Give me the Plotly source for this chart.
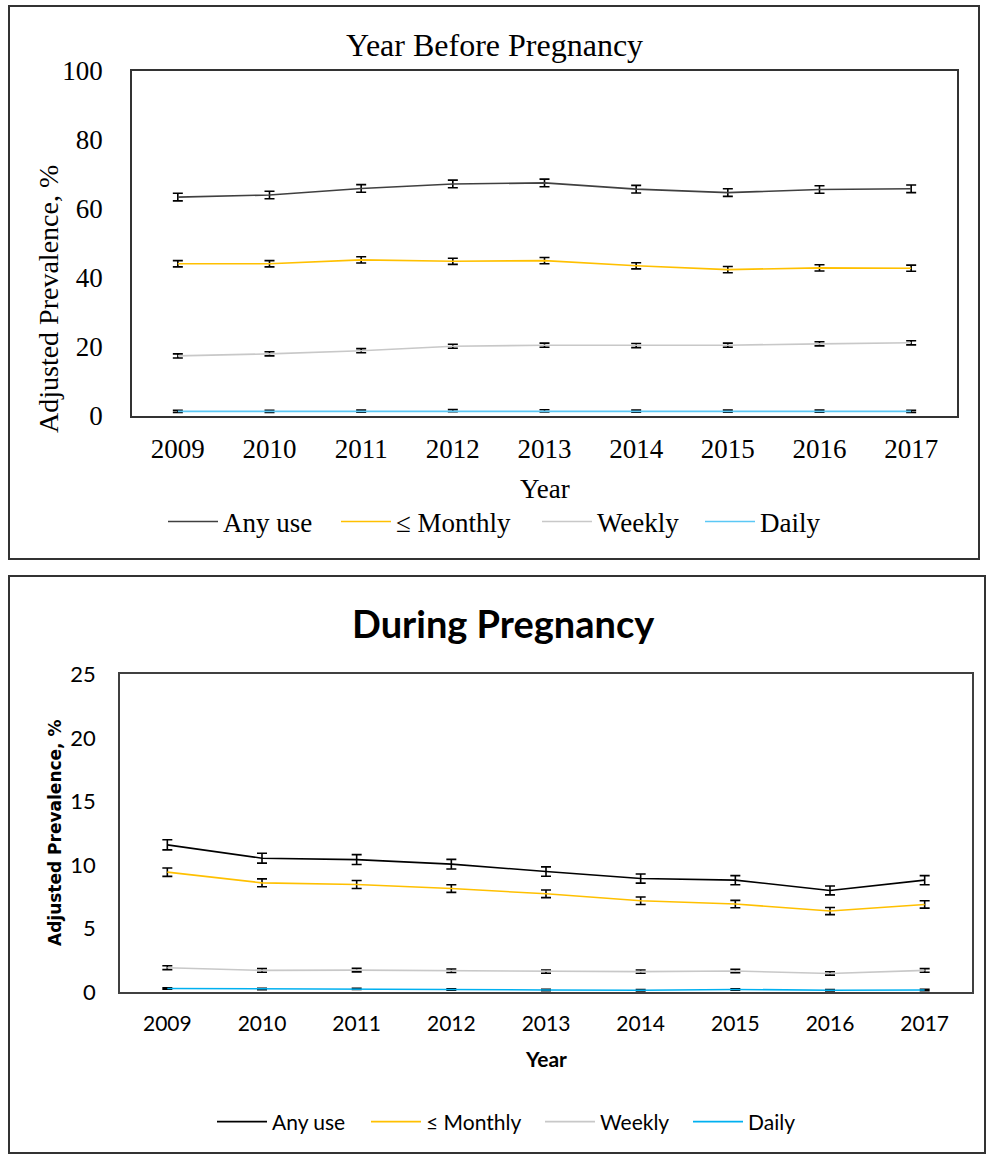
import plotly.graph_objects as go

W, H = 987, 1155

years = [2009, 2010, 2011, 2012, 2013, 2014, 2015, 2016, 2017]
series_names = ["Any use", "≤ Monthly", "Weekly", "Daily"]

# Year before pregnancy (adjusted prevalence, %)
before_any = [63.4, 64.0, 65.9, 67.2, 67.5, 65.7, 64.7, 65.6, 65.8]
before_monthly = [44.1, 44.1, 45.2, 44.8, 45.0, 43.5, 42.4, 42.9, 42.8]
before_weekly = [17.4, 18.0, 18.9, 20.2, 20.5, 20.4, 20.5, 20.9, 21.2]
before_daily = [1.35, 1.35, 1.4, 1.55, 1.5, 1.4, 1.4, 1.4, 1.35]
before_any_err = [1.1, 1.1, 1.1, 1.1, 1.1, 1.1, 1.1, 1.1, 1.1]
before_monthly_err = [0.9, 0.9, 0.9, 0.9, 0.9, 0.9, 0.9, 0.9, 0.9]
before_weekly_err = [0.6, 0.6, 0.6, 0.6, 0.6, 0.6, 0.6, 0.6, 0.6]
before_daily_err = [0.3, 0.3, 0.3, 0.3, 0.3, 0.3, 0.3, 0.3, 0.3]

# During pregnancy (adjusted prevalence, %)
during_any = [11.58, 10.53, 10.42, 10.06, 9.48, 8.93, 8.80, 7.99, 8.80]
during_monthly = [9.43, 8.59, 8.46, 8.14, 7.73, 7.18, 6.92, 6.37, 6.89]
during_weekly = [1.91, 1.70, 1.72, 1.67, 1.60, 1.60, 1.65, 1.46, 1.70]
during_daily = [0.28, 0.24, 0.25, 0.20, 0.16, 0.14, 0.20, 0.14, 0.16]
during_any_err = [0.40, 0.39, 0.39, 0.38, 0.37, 0.36, 0.36, 0.35, 0.36]
during_monthly_err = [0.33, 0.31, 0.31, 0.30, 0.30, 0.29, 0.29, 0.28, 0.29]
during_weekly_err = [0.15, 0.14, 0.14, 0.14, 0.13, 0.13, 0.13, 0.13, 0.14]
during_daily_err = [0.06, 0.05, 0.05, 0.05, 0.05, 0.05, 0.05, 0.05, 0.05]

top_colors = ["#404040", "#FFC000", "#C8C8C8", "#5BC8F5"]
bot_colors = ["#000000", "#FFC000", "#C8C8C8", "#00B0F0"]

SERIF = "Liberation Serif, Times New Roman, serif"
SANS = "Lato, Calibri, sans-serif"


def px(x):
    return x / W


def py(y):
    return 1 - y / H


fig = go.Figure()

top_vals = [before_any, before_monthly, before_weekly, before_daily]
top_errs = [before_any_err, before_monthly_err, before_weekly_err, before_daily_err]
bot_vals = [during_any, during_monthly, during_weekly, during_daily]
bot_errs = [during_any_err, during_monthly_err, during_weekly_err, during_daily_err]

# left edge of each legend line sample (px)
top_leg_x = [171, 344, 545, 708]
bot_leg_x = [220, 374, 548, 696]

for i, name in enumerate(series_names):
    fig.add_trace(go.Scatter(
        x=years, y=top_vals[i], name=name, mode="lines",
        line=dict(color=top_colors[i], width=1.6),
        error_y=dict(type="data", array=top_errs[i], color="black", thickness=1.6, width=5),
        xaxis="x", yaxis="y", legend="legend" if i == 0 else f"legend{i+1}",
    ))
for i, name in enumerate(series_names):
    fig.add_trace(go.Scatter(
        x=years, y=bot_vals[i], name=name, mode="lines",
        line=dict(color=bot_colors[i], width=1.6),
        error_y=dict(type="data", array=bot_errs[i], color="black", thickness=1.6, width=5),
        xaxis="x2", yaxis="y2", legend=f"legend{i+5}",
    ))

legends = {}
for i in range(4):
    key = "legend" if i == 0 else f"legend{i+1}"
    legends[key] = dict(
        x=px(top_leg_x[i] - 8), y=py(522), xanchor="left", yanchor="middle",
        orientation="h", bgcolor="rgba(0,0,0,0)", itemwidth=50,
        font=dict(family=SERIF, size=27, color="black"),
    )
for i in range(4):
    legends[f"legend{i+5}"] = dict(
        x=px(bot_leg_x[i] - 8), y=py(1122), xanchor="left", yanchor="middle",
        orientation="h", bgcolor="rgba(0,0,0,0)", itemwidth=50,
        font=dict(family=SANS, size=21, color="black"),
    )

fig.update_layout(
    width=W, height=H, margin=dict(l=0, r=0, t=0, b=0, pad=0, autoexpand=False),
    paper_bgcolor="white", plot_bgcolor="white",
    showlegend=True,
    xaxis=dict(
        domain=[px(132), px(957)], anchor="y", range=[2008.5, 2017.5],
        tickvals=years, ticktext=[str(y) for y in years], automargin=False,
        showline=True, linecolor="#333333", linewidth=1.5, mirror=True,
        showgrid=False, zeroline=False, ticks="",
        tickfont=dict(family=SERIF, size=27, color="black"), ticklabelstandoff=8,
    ),
    yaxis=dict(
        domain=[py(416), py(70.7)], anchor="x", range=[0, 100], dtick=20, automargin=False,
        showline=True, linecolor="#333333", linewidth=1.5, mirror=True,
        showgrid=False, zeroline=False, ticks="",
        tickfont=dict(family=SERIF, size=27, color="black"), ticklabelstandoff=22,
    ),
    xaxis2=dict(
        domain=[px(120), px(972)], anchor="y2", range=[2008.5, 2017.5],
        tickvals=years, ticktext=[str(y) for y in years], automargin=False,
        showline=True, linecolor="#404040", linewidth=1.5, mirror=True,
        showgrid=False, zeroline=False, ticks="",
        tickfont=dict(family=SANS, size=21, color="black"), ticklabelstandoff=12,
    ),
    yaxis2=dict(
        domain=[py(992), py(674.3)], anchor="x2", range=[0, 25], dtick=5, automargin=False,
        showline=True, linecolor="#404040", linewidth=1.5, mirror=True,
        showgrid=False, zeroline=False, ticks="",
        tickfont=dict(family=SANS, size=22, color="black"), ticklabelstandoff=18,
    ),
    **legends,
)

fig.add_shape(type="rect", xref="paper", yref="paper",
              x0=px(9), x1=px(979), y0=py(559), y1=py(6),
              line=dict(color="#333333", width=2), layer="below")
fig.add_shape(type="rect", xref="paper", yref="paper",
              x0=px(9), x1=px(985), y0=py(1153), y1=py(576),
              line=dict(color="#333333", width=2), layer="below")

annots = [
    dict(text="Year Before Pregnancy", x=px(494), y=py(45),
         font=dict(family=SERIF, size=32, color="black")),
    dict(text="Year", x=px(544.5), y=py(489),
         font=dict(family=SERIF, size=27, color="black")),
    dict(text="Adjusted Prevalence, %", x=px(48), y=py(299), textangle=-90,
         font=dict(family=SERIF, size=28, color="black")),
    dict(text="<b>During Pregnancy</b>", x=px(503), y=py(623),
         font=dict(family=SANS, size=38, color="black")),
    dict(text="<b>Year</b>", x=px(546), y=py(1058),
         font=dict(family=SANS, size=21, color="black")),
    dict(text="<b>Adjusted Prevalence, %</b>", x=px(55), y=py(833), textangle=-90,
         font=dict(family="DejaVu Sans, Verdana, sans-serif", size=17, color="black")),
]
for a in annots:
    fig.add_annotation(xref="paper", yref="paper", xanchor="center", yanchor="middle",
                       showarrow=False, **a)

fig.write_html(
    "out.html",
    config={"displayModeBar": False},
    post_script="document.body.style.margin='0';document.documentElement.style.overflow='hidden';",
)
